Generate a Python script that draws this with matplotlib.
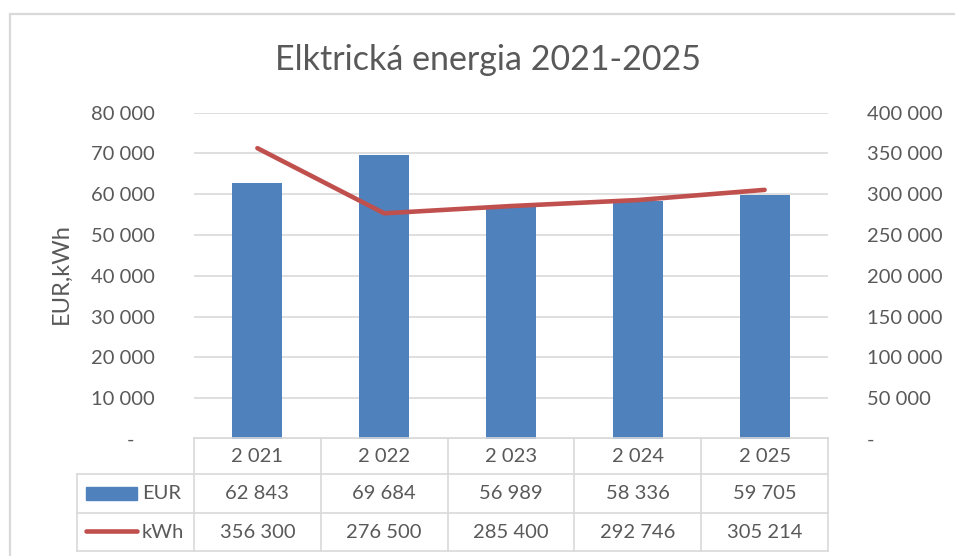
import matplotlib.pyplot as plt
from matplotlib.lines import Line2D
from matplotlib.patches import Rectangle

plt.rcParams['font.family'] = ['Lato', 'DejaVu Sans']

# data
roky = [2021, 2022, 2023, 2024, 2025]
eur = [62843, 69684, 56989, 58336, 59705]
kwh = [356300, 276500, 285400, 292746, 305214]
eur_ticks = list(range(0, 80001, 10000))
kwh_ticks = list(range(0, 400001, 50000))

W, H = 955, 556
sivy = '#595959'
mriezka = '#D9D9D9'
modra = '#4F81BD'
cervena = '#C0504D'
fs = 14.5


def fx(px):
    return px / W


def fy(py):
    return 1 - py / H


def fmt(v, nula='-'):
    if v == 0:
        return nula
    return f'{v:,.0f}'.replace(',', ' ')


fig = plt.figure(figsize=(W / 100, H / 100), dpi=100)

# ram grafu
fig.add_artist(Line2D([fx(10), fx(10)], [fy(14), fy(H + 5)], color='#D9D9D9', lw=1.6))
fig.add_artist(Line2D([fx(10), fx(W + 5)], [fy(14), fy(14)], color='#D9D9D9', lw=1.6))

# oblast grafu
left, right, top, bottom = 194, 828, 112.5, 439
ax = fig.add_axes([fx(left), fy(bottom), fx(right - left), (bottom - top) / H])
x = list(range(len(roky)))
ax.bar(x, eur, width=50 / 127, color=modra, zorder=2)
ax.set_xlim(-0.5, len(roky) - 0.5)
ax.set_ylim(0, 80000)
ax.set_yticks(eur_ticks)
ax.set_yticklabels([fmt(v, '-    ') for v in eur_ticks])
ax.set_xticks([])
ax.grid(axis='y', color=mriezka, lw=1.2, zorder=0)
ax.tick_params(axis='y', length=0, pad=28, labelsize=fs, labelcolor=sivy)
for s in ax.spines.values():
    s.set_visible(False)

ax2 = ax.twinx()
ax2.plot(x, kwh, color=cervena, lw=3.3, solid_capstyle='round', zorder=3)
ax2.set_ylim(0, 400000)
ax2.set_yticks(kwh_ticks)
ax2.set_yticklabels([fmt(v) for v in kwh_ticks])
ax2.tick_params(axis='y', length=0, pad=28, labelsize=fs, labelcolor=sivy)
for s in ax2.spines.values():
    s.set_visible(False)

fig.text(fx(488), fy(60), 'Elktrická energia 2021-2025', ha='center', va='center',
         fontsize=24.5, color=sivy)
fig.text(fx(61), fy(274), 'EUR,kWh', rotation=90, ha='center', va='center',
         fontsize=17, color=sivy)

# tabulka udajov
stlpce = [194 + i * (right - left) / len(roky) for i in range(len(roky) + 1)]
riadky = [438, 474, 513, 551]
tl = dict(color=mriezka, lw=1.2)
fig.add_artist(Line2D([fx(stlpce[0]), fx(stlpce[-1])], [fy(riadky[0])] * 2, **tl))
for ry in riadky[1:]:
    fig.add_artist(Line2D([fx(77), fx(stlpce[-1])], [fy(ry)] * 2, **tl))
for sx in stlpce:
    fig.add_artist(Line2D([fx(sx)] * 2, [fy(riadky[0]), fy(riadky[-1])], **tl))
fig.add_artist(Line2D([fx(77)] * 2, [fy(riadky[1]), fy(riadky[-1])], **tl))

txt = dict(ha='center', va='center', fontsize=fs, color=sivy)
for i, r in enumerate(roky):
    cx = fx((stlpce[i] + stlpce[i + 1]) / 2)
    fig.text(cx, fy((riadky[0] + riadky[1]) / 2), fmt(r), **txt)
    fig.text(cx, fy((riadky[1] + riadky[2]) / 2), fmt(eur[i]), **txt)
    fig.text(cx, fy((riadky[2] + riadky[3]) / 2), fmt(kwh[i]), **txt)

# legenda v tabulke
fig.add_artist(Rectangle((fx(86), fy(500)), fx(137 - 86), (500 - 487) / H, color=modra))
fig.add_artist(Line2D([fx(86), fx(137)], [fy(531)] * 2, color=cervena, lw=3.3,
                      solid_capstyle='round'))
fig.text(fx(142), fy((riadky[1] + riadky[2]) / 2), 'EUR', ha='left', va='center',
         fontsize=fs, color=sivy)
fig.text(fx(142), fy((riadky[2] + riadky[3]) / 2), 'kWh', ha='left', va='center',
         fontsize=fs, color=sivy)

fig.savefig('out.png', dpi=100)
